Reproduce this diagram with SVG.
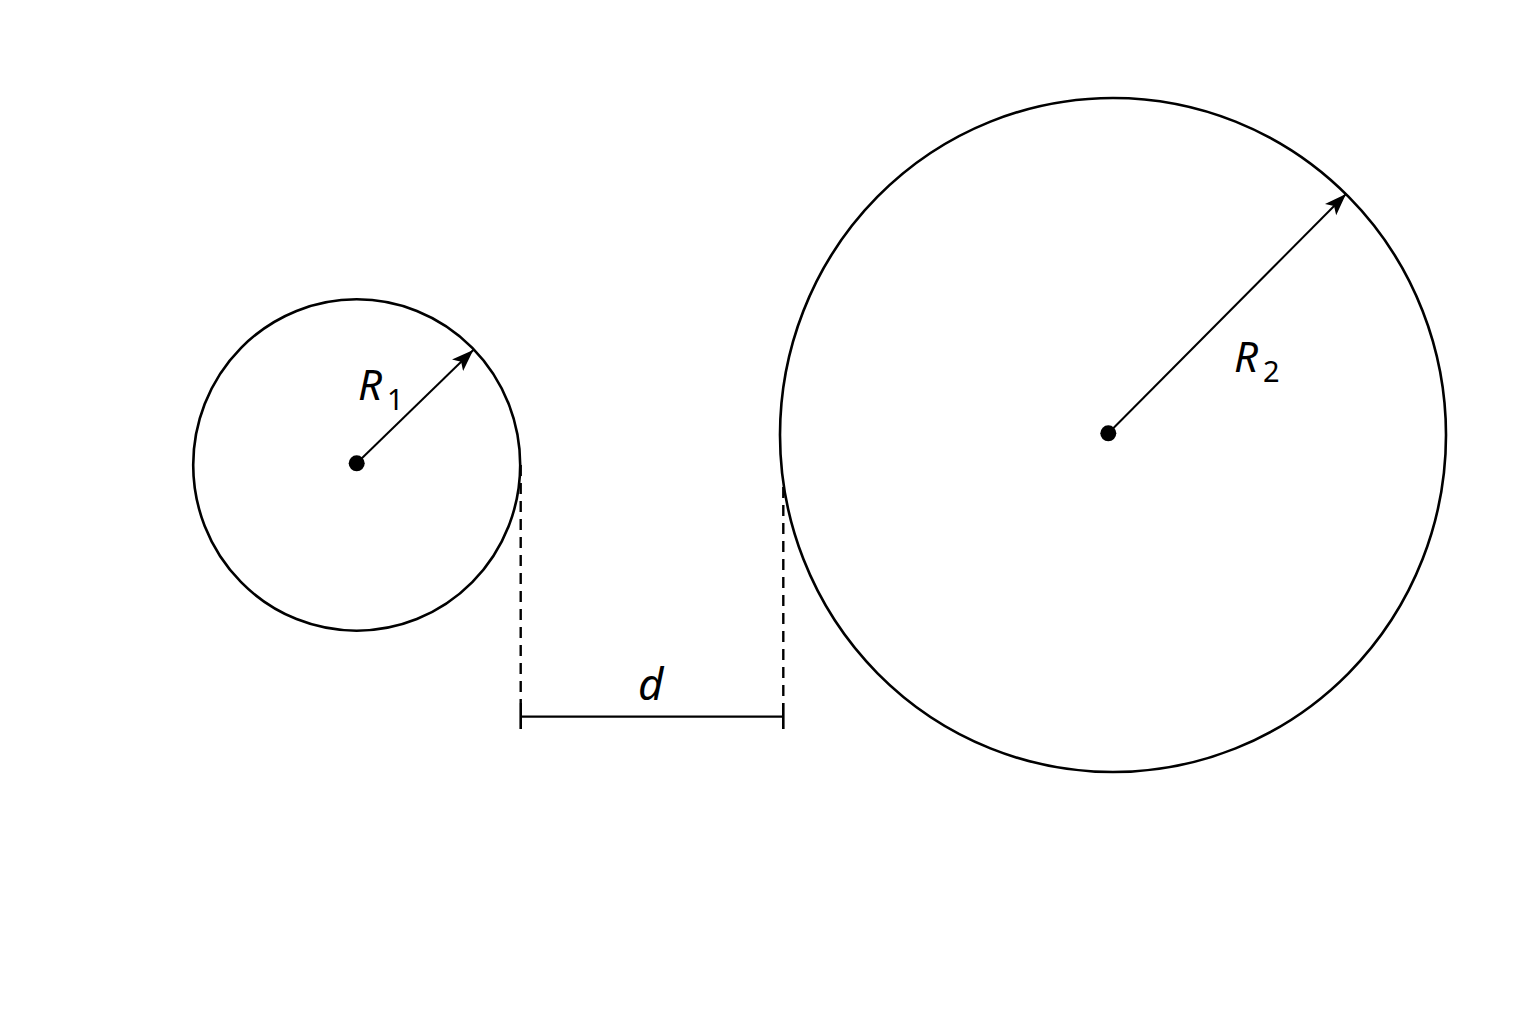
<svg xmlns="http://www.w3.org/2000/svg" width="1536" height="1024" viewBox="0 0 1536 1024">
<defs>
<marker id="arr" markerUnits="userSpaceOnUse" markerWidth="24" markerHeight="18" refX="22" refY="8" orient="auto" viewBox="0 0 24 18">
<path d="M0,0 L22,8 L0,16 L5,8 z" fill="#000"/>
</marker>
<style>
.circ{fill:none;stroke:#000;stroke-width:2.6}
.rad{stroke:#000;stroke-width:2;fill:none}
.dash{stroke:#000;stroke-width:2.4;stroke-dasharray:11 7;fill:none}
.dim{stroke:#000;stroke-width:2.2;fill:none}
.tick{stroke:#000;stroke-width:2.6;fill:none}
.lbl{font-family:"Noto Sans","Open Sans","DejaVu Sans",sans-serif;font-style:italic;fill:#000}
.sub{font-family:"Noto Sans","Open Sans","DejaVu Sans",sans-serif;font-style:normal;fill:#000}
</style>
</defs>
<rect width="1536" height="1024" fill="#fff"/>
<g id="circle1">
<ellipse class="circ" cx="356.7" cy="465" rx="163.5" ry="165.7"/>
<circle cx="356.7" cy="463.3" r="8" fill="#000"/>
<text class="lbl" x="358" y="400" font-size="42">R</text>
<text class="sub" x="387" y="410" font-size="29">1</text>
</g>
<g id="circle2">
<ellipse class="circ" cx="1113" cy="435" rx="333" ry="337"/>
<circle cx="1108.3" cy="433.3" r="8" fill="#000"/>
<text class="lbl" x="1234" y="371.5" font-size="42">R</text>
<text class="sub" x="1263" y="381.5" font-size="29">2</text>
</g>
<g id="dimension">
<text class="lbl" x="638" y="700" font-size="44">d</text>
</g>
<g id="connectors">
<line class="rad" x1="356.7" y1="463.3" x2="473.3" y2="350" marker-end="url(#arr)"/>
<line class="rad" x1="1108.3" y1="433.3" x2="1346" y2="194" marker-end="url(#arr)"/>
<line class="dash" x1="520.7" y1="465" x2="520.7" y2="703"/>
<line class="dash" x1="783.3" y1="487" x2="783.3" y2="703"/>
<line class="dim" x1="520.7" y1="716.7" x2="783.3" y2="716.7"/>
<line class="tick" x1="520.7" y1="703" x2="520.7" y2="729"/>
<line class="tick" x1="783.3" y1="703" x2="783.3" y2="729"/>
</g>
</svg>
